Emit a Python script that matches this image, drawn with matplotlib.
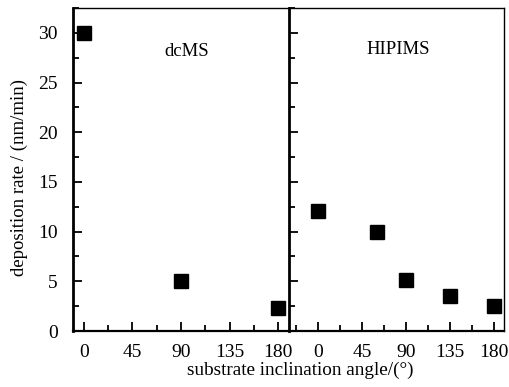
import matplotlib
matplotlib.use("Agg")
import matplotlib.pyplot as plt
from matplotlib.ticker import MultipleLocator

# data
dcms_angle = [0, 90, 180]
dcms_rate = [30.0, 5.0, 2.3]
hipims_angle = [0, 60, 90, 135, 180]
hipims_rate = [12.1, 10.0, 5.1, 3.5, 2.5]
xticks = [0, 45, 90, 135, 180]

plt.rcParams["font.family"] = ["Liberation Serif", "DejaVu Serif"]
plt.rcParams["font.size"] = 14

fig = plt.figure(figsize=(5.09, 3.87), dpi=100)
axl = fig.add_axes([0.1434, 0.1447, 0.4244, 0.8346])
axr = fig.add_axes([0.5678, 0.1447, 0.4224, 0.8346])

panels = [(axl, dcms_angle, dcms_rate, "dcMS", (-10, 190), (0.528, 0.864)),
          (axr, hipims_angle, hipims_rate, "HIPIMS", (-30, 190), (0.507, 0.87))]
for ax, x, y, lab, xlim, pos in panels:
    ax.plot(x, y, "s", color="black", markersize=10, linestyle="none")
    ax.set_xlim(*xlim)
    ax.set_ylim(0, 32.5)
    ax.set_xticks(xticks)
    ax.xaxis.set_minor_locator(MultipleLocator(22.5))
    ax.yaxis.set_major_locator(MultipleLocator(5))
    ax.yaxis.set_minor_locator(MultipleLocator(2.5))
    ax.tick_params(which="both", direction="in", top=False, right=False,
                   width=1.3)
    ax.tick_params(axis="x", which="both", pad=9.5)
    ax.tick_params(axis="y", which="both", pad=11)
    ax.tick_params(which="major", length=6.5)
    ax.tick_params(which="minor", length=4)
    ax.spines["left"].set_linewidth(2.0)
    ax.spines["bottom"].set_linewidth(1.6)
    ax.spines["top"].set_linewidth(1.0)
    ax.spines["right"].set_linewidth(1.0)
    ax.text(pos[0], pos[1], lab, transform=ax.transAxes, ha="center",
            va="center", fontsize=13.5)

axr.tick_params(axis="y", labelleft=False)
axl.spines["right"].set_visible(False)

axl.set_ylabel("deposition rate / (nm/min)", fontsize=13.5)
axl.yaxis.set_label_coords(-0.208, 0.474)
fig.text(0.59, 0.042, "substrate inclination angle/(\u00b0)", ha="center",
         va="center", fontsize=13.8)

fig.savefig("out.png", dpi=100)
